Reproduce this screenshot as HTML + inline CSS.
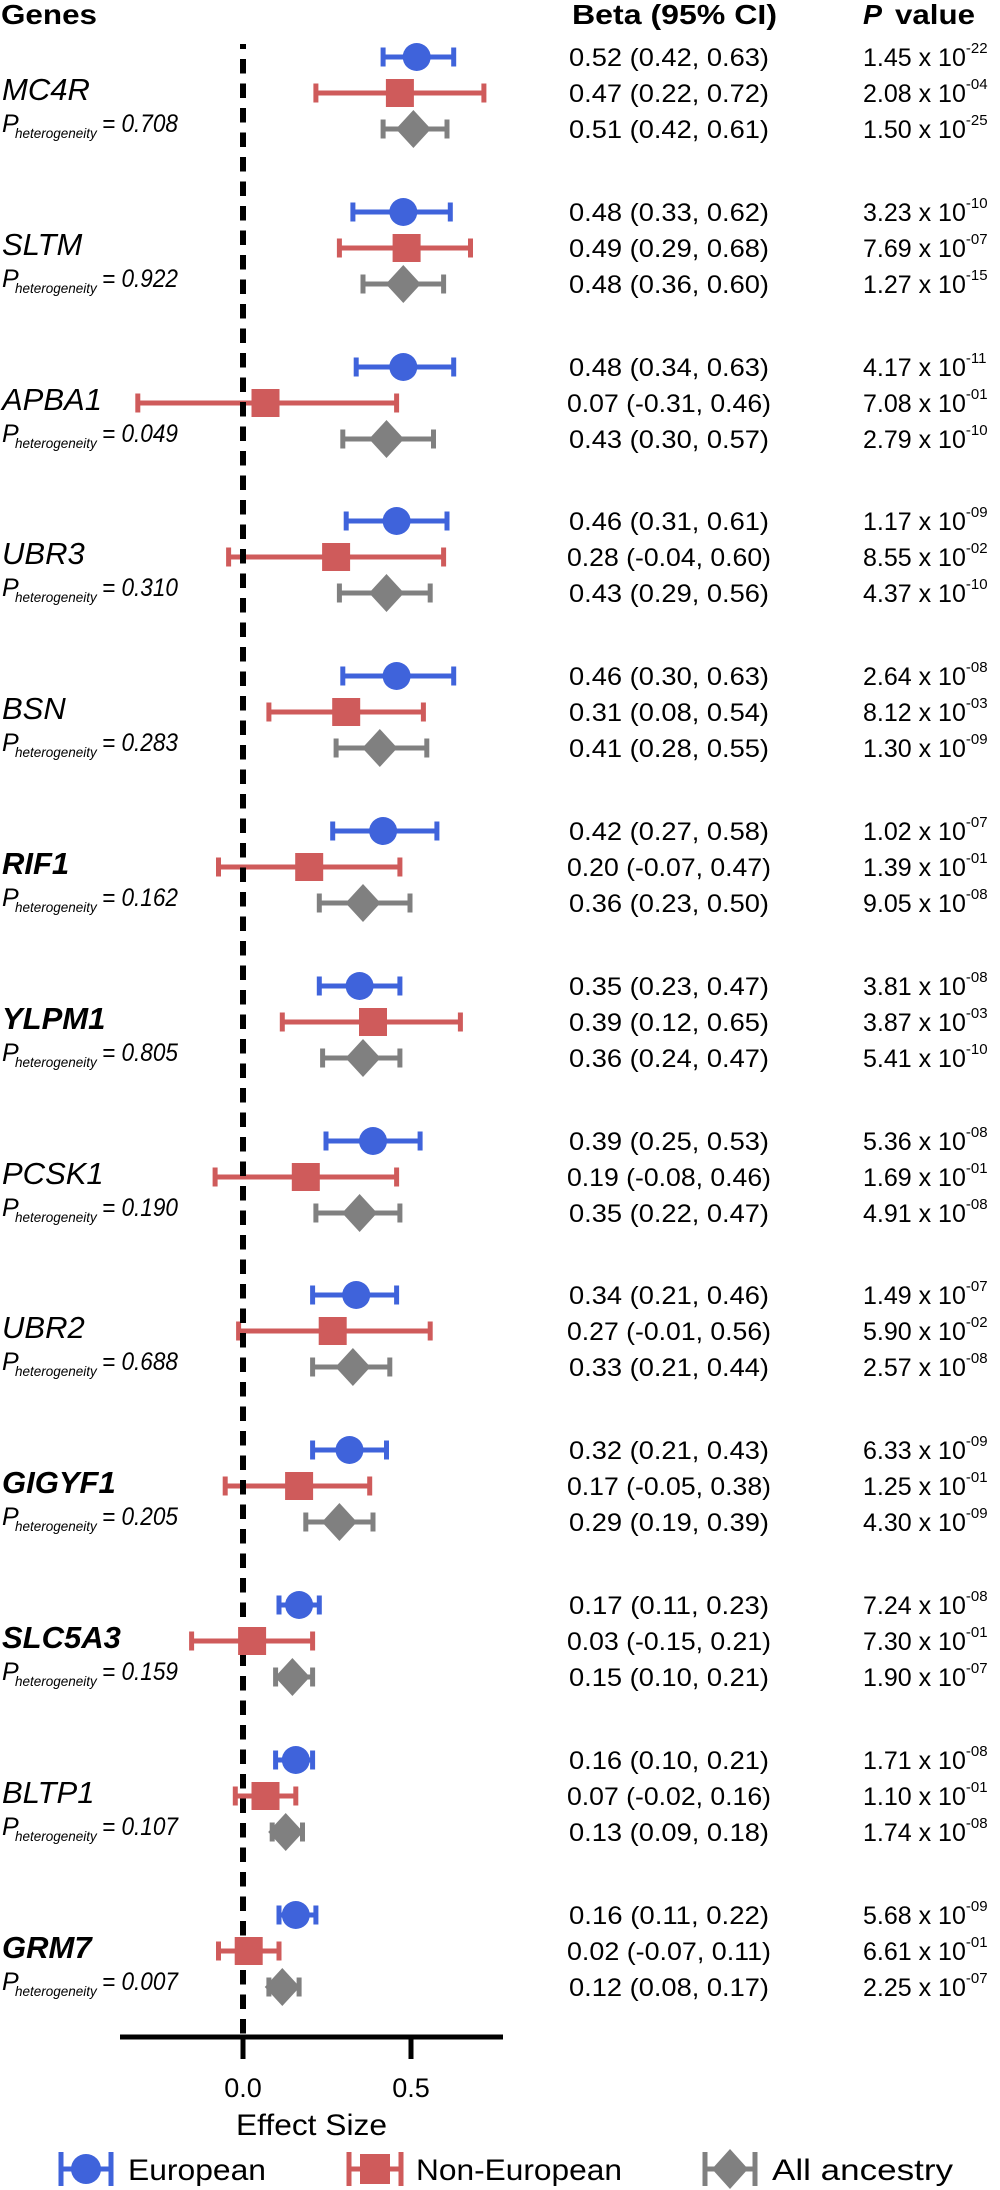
<!DOCTYPE html>
<html>
<head>
<meta charset="utf-8">
<style>
html,body{margin:0;padding:0;background:#fff;}
svg{display:block;}
text{font-family:"Liberation Sans",Arial,sans-serif;fill:#000;}
.h{font-weight:bold;font-size:28px;}
.g{font-style:italic;font-size:31px;}
.gb{font-style:italic;font-weight:bold;font-size:31px;}
.p{font-style:italic;font-size:25px;}
.s{font-style:italic;font-size:13.5px;}
.t{font-size:25px;}
.ax{font-size:27px;}
.lg{font-size:30px;}
.eb{fill:none;stroke-width:5;}
.B{stroke:#3f63db;} .Bf{fill:#3f63db;}
.R{stroke:#cf5b5b;} .Rf{fill:#cf5b5b;}
.G{stroke:#808080;} .Gf{fill:#808080;}
</style>
</head>
<body>
<svg width="1000" height="2190" viewBox="0 0 1000 2190" xmlns="http://www.w3.org/2000/svg">
<rect width="1000" height="2190" fill="#fff"/>

<!-- Headers -->
<text class="h" x="1" y="24" font-size="29" textLength="96" lengthAdjust="spacingAndGlyphs">Genes</text>
<text class="h" x="572" y="24" textLength="205" lengthAdjust="spacingAndGlyphs">Beta (95% CI)</text>
<text class="h" x="863" y="24" font-style="italic" textLength="19" lengthAdjust="spacingAndGlyphs">P</text>
<text class="h" x="895" y="24" textLength="80" lengthAdjust="spacingAndGlyphs">value</text>

<!-- Error bars -->
<g class="eb">
<!-- g0 -->
<path class="B" d="M383.1 57H453.7M383.1 47.5V66.5M453.7 47.5V66.5"/>
<path class="R" d="M315.9 93H483.9M315.9 83.5V102.5M483.9 83.5V102.5"/>
<path class="G" d="M383.1 129H447M383.1 119.5V138.5M447 119.5V138.5"/>
<!-- g1 -->
<path class="B" d="M352.9 212H450.3M352.9 202.5V221.5M450.3 202.5V221.5"/>
<path class="R" d="M339.4 248H470.5M339.4 238.5V257.5M470.5 238.5V257.5"/>
<path class="G" d="M363 284H443.6M363 274.5V293.5M443.6 274.5V293.5"/>
<!-- g2 -->
<path class="B" d="M356.2 367H453.7M356.2 357.5V376.5M453.7 357.5V376.5"/>
<path class="R" d="M137.8 403H396.6M137.8 393.5V412.5M396.6 393.5V412.5"/>
<path class="G" d="M342.8 439H433.5M342.8 429.5V448.5M433.5 429.5V448.5"/>
<!-- g3 -->
<path class="B" d="M346.2 521H447M346.2 511.5V530.5M447 511.5V530.5"/>
<path class="R" d="M228.6 557H443.6M228.6 547.5V566.5M443.6 547.5V566.5"/>
<path class="G" d="M339.4 593H430.2M339.4 583.5V602.5M430.2 583.5V602.5"/>
<!-- g4 -->
<path class="B" d="M342.8 676H453.7M342.8 666.5V685.5M453.7 666.5V685.5"/>
<path class="R" d="M268.9 712H423.4M268.9 702.5V721.5M423.4 702.5V721.5"/>
<path class="G" d="M336.1 748H426.8M336.1 738.5V757.5M426.8 738.5V757.5"/>
<!-- g5 -->
<path class="B" d="M332.7 831H436.9M332.7 821.5V840.5M436.9 821.5V840.5"/>
<path class="R" d="M218.5 867H399.9M218.5 857.5V876.5M399.9 857.5V876.5"/>
<path class="G" d="M319.3 903H410M319.3 893.5V912.5M410 893.5V912.5"/>
<!-- g6 -->
<path class="B" d="M319.3 986H399.9M319.3 976.5V995.5M399.9 976.5V995.5"/>
<path class="R" d="M282.3 1022H460.4M282.3 1012.5V1031.5M460.4 1012.5V1031.5"/>
<path class="G" d="M322.6 1058H399.9M322.6 1048.5V1067.5M399.9 1048.5V1067.5"/>
<!-- g7 -->
<path class="B" d="M326 1141H420.1M326 1131.5V1150.5M420.1 1131.5V1150.5"/>
<path class="R" d="M215.1 1177H396.6M215.1 1167.5V1186.5M396.6 1167.5V1186.5"/>
<path class="G" d="M315.9 1213H399.9M315.9 1203.5V1222.5M399.9 1203.5V1222.5"/>
<!-- g8 -->
<path class="B" d="M312.6 1295H396.6M312.6 1285.5V1304.5M396.6 1285.5V1304.5"/>
<path class="R" d="M238.6 1331H430.2M238.6 1321.5V1340.5M430.2 1321.5V1340.5"/>
<path class="G" d="M312.6 1367H389.8M312.6 1357.5V1376.5M389.8 1357.5V1376.5"/>
<!-- g9 -->
<path class="B" d="M312.6 1450H386.5M312.6 1440.5V1459.5M386.5 1440.5V1459.5"/>
<path class="R" d="M225.2 1486H369.7M225.2 1476.5V1495.5M369.7 1476.5V1495.5"/>
<path class="G" d="M305.8 1522H373M305.8 1512.5V1531.5M373 1512.5V1531.5"/>
<!-- g10 -->
<path class="B" d="M279 1605H319.3M279 1595.5V1614.5M319.3 1595.5V1614.5"/>
<path class="R" d="M191.6 1641H312.6M191.6 1631.5V1650.5M312.6 1631.5V1650.5"/>
<path class="G" d="M275.6 1677H312.6M275.6 1667.5V1686.5M312.6 1667.5V1686.5"/>
<!-- g11 -->
<path class="B" d="M275.6 1760H312.6M275.6 1750.5V1769.5M312.6 1750.5V1769.5"/>
<path class="R" d="M235.3 1796H295.8M235.3 1786.5V1805.5M295.8 1786.5V1805.5"/>
<path class="G" d="M272.2 1832H302.5M272.2 1822.5V1841.5M302.5 1822.5V1841.5"/>
<!-- g12 -->
<path class="B" d="M279 1915H315.9M279 1905.5V1924.5M315.9 1905.5V1924.5"/>
<path class="R" d="M218.5 1951H279M218.5 1941.5V1960.5M279 1941.5V1960.5"/>
<path class="G" d="M268.9 1987H299.1M268.9 1977.5V1996.5M299.1 1977.5V1996.5"/>
</g>

<!-- Dashed zero line -->
<line x1="243" y1="44" x2="243" y2="2037" stroke="#000" stroke-width="6" stroke-dasharray="14.5 10" stroke-dashoffset="9.5"/>

<!-- Markers -->
<g>
<circle class="Bf" cx="416.7" cy="57" r="14"/>
<rect class="Rf" x="385.9" y="79" width="28" height="28"/>
<polygon class="Gf" points="395.9,129 413.4,110 430.9,129 413.4,148"/>

<circle class="Bf" cx="403.3" cy="212" r="14"/>
<rect class="Rf" x="392.6" y="234" width="28" height="28"/>
<polygon class="Gf" points="385.8,284 403.3,265 420.8,284 403.3,303"/>

<circle class="Bf" cx="403.3" cy="367" r="14"/>
<rect class="Rf" x="251.5" y="389" width="28" height="28"/>
<polygon class="Gf" points="369,439 386.5,420 404,439 386.5,458"/>

<circle class="Bf" cx="396.6" cy="521" r="14"/>
<rect class="Rf" x="322.1" y="543" width="28" height="28"/>
<polygon class="Gf" points="369,593 386.5,574 404,593 386.5,612"/>

<circle class="Bf" cx="396.6" cy="676" r="14"/>
<rect class="Rf" x="332.2" y="698" width="28" height="28"/>
<polygon class="Gf" points="362.3,748 379.8,729 397.3,748 379.8,767"/>

<circle class="Bf" cx="383.1" cy="831" r="14"/>
<rect class="Rf" x="295.2" y="853" width="28" height="28"/>
<polygon class="Gf" points="345.5,903 363,884 380.5,903 363,922"/>

<circle class="Bf" cx="359.6" cy="986" r="14"/>
<rect class="Rf" x="359" y="1008" width="28" height="28"/>
<polygon class="Gf" points="345.5,1058 363,1039 380.5,1058 363,1077"/>

<circle class="Bf" cx="373" cy="1141" r="14"/>
<rect class="Rf" x="291.8" y="1163" width="28" height="28"/>
<polygon class="Gf" points="342.1,1213 359.6,1194 377.1,1213 359.6,1232"/>

<circle class="Bf" cx="356.2" cy="1295" r="14"/>
<rect class="Rf" x="318.7" y="1317" width="28" height="28"/>
<polygon class="Gf" points="335.4,1367 352.9,1348 370.4,1367 352.9,1386"/>

<circle class="Bf" cx="349.5" cy="1450" r="14"/>
<rect class="Rf" x="285.1" y="1472" width="28" height="28"/>
<polygon class="Gf" points="321.9,1522 339.4,1503 356.9,1522 339.4,1541"/>

<circle class="Bf" cx="299.1" cy="1605" r="14"/>
<rect class="Rf" x="238.1" y="1627" width="28" height="28"/>
<polygon class="Gf" points="274.9,1677 292.4,1658 309.9,1677 292.4,1696"/>

<circle class="Bf" cx="295.8" cy="1760" r="14"/>
<rect class="Rf" x="251.5" y="1782" width="28" height="28"/>
<polygon class="Gf" points="268.2,1832 285.7,1813 303.2,1832 285.7,1851"/>

<circle class="Bf" cx="295.8" cy="1915" r="14"/>
<rect class="Rf" x="234.7" y="1937" width="28" height="28"/>
<polygon class="Gf" points="264.8,1987 282.3,1968 299.8,1987 282.3,2006"/>
</g>

<!-- Gene labels -->
<g>
<text class="g" x="2" y="100">MC4R</text>
<text class="p" x="2" y="132">P</text><text class="s" x="15" y="138">heterogeneity</text><text class="p" x="102" y="132" textLength="76" lengthAdjust="spacingAndGlyphs">= 0.708</text>

<text class="g" x="2" y="255">SLTM</text>
<text class="p" x="2" y="287">P</text><text class="s" x="15" y="293">heterogeneity</text><text class="p" x="102" y="287" textLength="76" lengthAdjust="spacingAndGlyphs">= 0.922</text>

<text class="g" x="2" y="410">APBA1</text>
<text class="p" x="2" y="442">P</text><text class="s" x="15" y="448">heterogeneity</text><text class="p" x="102" y="442" textLength="76" lengthAdjust="spacingAndGlyphs">= 0.049</text>

<text class="g" x="2" y="564">UBR3</text>
<text class="p" x="2" y="596">P</text><text class="s" x="15" y="602">heterogeneity</text><text class="p" x="102" y="596" textLength="76" lengthAdjust="spacingAndGlyphs">= 0.310</text>

<text class="g" x="2" y="719">BSN</text>
<text class="p" x="2" y="751">P</text><text class="s" x="15" y="757">heterogeneity</text><text class="p" x="102" y="751" textLength="76" lengthAdjust="spacingAndGlyphs">= 0.283</text>

<text class="gb" x="2" y="874">RIF1</text>
<text class="p" x="2" y="906">P</text><text class="s" x="15" y="912">heterogeneity</text><text class="p" x="102" y="906" textLength="76" lengthAdjust="spacingAndGlyphs">= 0.162</text>

<text class="gb" x="2" y="1029">YLPM1</text>
<text class="p" x="2" y="1061">P</text><text class="s" x="15" y="1067">heterogeneity</text><text class="p" x="102" y="1061" textLength="76" lengthAdjust="spacingAndGlyphs">= 0.805</text>

<text class="g" x="2" y="1184">PCSK1</text>
<text class="p" x="2" y="1216">P</text><text class="s" x="15" y="1222">heterogeneity</text><text class="p" x="102" y="1216" textLength="76" lengthAdjust="spacingAndGlyphs">= 0.190</text>

<text class="g" x="2" y="1338">UBR2</text>
<text class="p" x="2" y="1370">P</text><text class="s" x="15" y="1376">heterogeneity</text><text class="p" x="102" y="1370" textLength="76" lengthAdjust="spacingAndGlyphs">= 0.688</text>

<text class="gb" x="2" y="1493">GIGYF1</text>
<text class="p" x="2" y="1525">P</text><text class="s" x="15" y="1531">heterogeneity</text><text class="p" x="102" y="1525" textLength="76" lengthAdjust="spacingAndGlyphs">= 0.205</text>

<text class="gb" x="2" y="1648">SLC5A3</text>
<text class="p" x="2" y="1680">P</text><text class="s" x="15" y="1686">heterogeneity</text><text class="p" x="102" y="1680" textLength="76" lengthAdjust="spacingAndGlyphs">= 0.159</text>

<text class="g" x="2" y="1803">BLTP1</text>
<text class="p" x="2" y="1835">P</text><text class="s" x="15" y="1841">heterogeneity</text><text class="p" x="102" y="1835" textLength="76" lengthAdjust="spacingAndGlyphs">= 0.107</text>

<text class="gb" x="2" y="1958">GRM7</text>
<text class="p" x="2" y="1990">P</text><text class="s" x="15" y="1996">heterogeneity</text><text class="p" x="102" y="1990" textLength="76" lengthAdjust="spacingAndGlyphs">= 0.007</text>
</g>

<!-- Beta column -->
<g class="t">
<text class="t" x="569" y="66" textLength="200" lengthAdjust="spacingAndGlyphs">0.52 (0.42, 0.63)</text>
<text class="t" x="569" y="102" textLength="200" lengthAdjust="spacingAndGlyphs">0.47 (0.22, 0.72)</text>
<text class="t" x="569" y="138" textLength="200" lengthAdjust="spacingAndGlyphs">0.51 (0.42, 0.61)</text>

<text class="t" x="569" y="221" textLength="200" lengthAdjust="spacingAndGlyphs">0.48 (0.33, 0.62)</text>
<text class="t" x="569" y="257" textLength="200" lengthAdjust="spacingAndGlyphs">0.49 (0.29, 0.68)</text>
<text class="t" x="569" y="293" textLength="200" lengthAdjust="spacingAndGlyphs">0.48 (0.36, 0.60)</text>

<text class="t" x="569" y="376" textLength="200" lengthAdjust="spacingAndGlyphs">0.48 (0.34, 0.63)</text>
<text class="t" x="567" y="412" textLength="204" lengthAdjust="spacingAndGlyphs">0.07 (-0.31, 0.46)</text>
<text class="t" x="569" y="448" textLength="200" lengthAdjust="spacingAndGlyphs">0.43 (0.30, 0.57)</text>

<text class="t" x="569" y="530" textLength="200" lengthAdjust="spacingAndGlyphs">0.46 (0.31, 0.61)</text>
<text class="t" x="567" y="566" textLength="204" lengthAdjust="spacingAndGlyphs">0.28 (-0.04, 0.60)</text>
<text class="t" x="569" y="602" textLength="200" lengthAdjust="spacingAndGlyphs">0.43 (0.29, 0.56)</text>

<text class="t" x="569" y="685" textLength="200" lengthAdjust="spacingAndGlyphs">0.46 (0.30, 0.63)</text>
<text class="t" x="569" y="721" textLength="200" lengthAdjust="spacingAndGlyphs">0.31 (0.08, 0.54)</text>
<text class="t" x="569" y="757" textLength="200" lengthAdjust="spacingAndGlyphs">0.41 (0.28, 0.55)</text>

<text class="t" x="569" y="840" textLength="200" lengthAdjust="spacingAndGlyphs">0.42 (0.27, 0.58)</text>
<text class="t" x="567" y="876" textLength="204" lengthAdjust="spacingAndGlyphs">0.20 (-0.07, 0.47)</text>
<text class="t" x="569" y="912" textLength="200" lengthAdjust="spacingAndGlyphs">0.36 (0.23, 0.50)</text>

<text class="t" x="569" y="995" textLength="200" lengthAdjust="spacingAndGlyphs">0.35 (0.23, 0.47)</text>
<text class="t" x="569" y="1031" textLength="200" lengthAdjust="spacingAndGlyphs">0.39 (0.12, 0.65)</text>
<text class="t" x="569" y="1067" textLength="200" lengthAdjust="spacingAndGlyphs">0.36 (0.24, 0.47)</text>

<text class="t" x="569" y="1150" textLength="200" lengthAdjust="spacingAndGlyphs">0.39 (0.25, 0.53)</text>
<text class="t" x="567" y="1186" textLength="204" lengthAdjust="spacingAndGlyphs">0.19 (-0.08, 0.46)</text>
<text class="t" x="569" y="1222" textLength="200" lengthAdjust="spacingAndGlyphs">0.35 (0.22, 0.47)</text>

<text class="t" x="569" y="1304" textLength="200" lengthAdjust="spacingAndGlyphs">0.34 (0.21, 0.46)</text>
<text class="t" x="567" y="1340" textLength="204" lengthAdjust="spacingAndGlyphs">0.27 (-0.01, 0.56)</text>
<text class="t" x="569" y="1376" textLength="200" lengthAdjust="spacingAndGlyphs">0.33 (0.21, 0.44)</text>

<text class="t" x="569" y="1459" textLength="200" lengthAdjust="spacingAndGlyphs">0.32 (0.21, 0.43)</text>
<text class="t" x="567" y="1495" textLength="204" lengthAdjust="spacingAndGlyphs">0.17 (-0.05, 0.38)</text>
<text class="t" x="569" y="1531" textLength="200" lengthAdjust="spacingAndGlyphs">0.29 (0.19, 0.39)</text>

<text class="t" x="569" y="1614" textLength="200" lengthAdjust="spacingAndGlyphs">0.17 (0.11, 0.23)</text>
<text class="t" x="567" y="1650" textLength="204" lengthAdjust="spacingAndGlyphs">0.03 (-0.15, 0.21)</text>
<text class="t" x="569" y="1686" textLength="200" lengthAdjust="spacingAndGlyphs">0.15 (0.10, 0.21)</text>

<text class="t" x="569" y="1769" textLength="200" lengthAdjust="spacingAndGlyphs">0.16 (0.10, 0.21)</text>
<text class="t" x="567" y="1805" textLength="204" lengthAdjust="spacingAndGlyphs">0.07 (-0.02, 0.16)</text>
<text class="t" x="569" y="1841" textLength="200" lengthAdjust="spacingAndGlyphs">0.13 (0.09, 0.18)</text>

<text class="t" x="569" y="1924" textLength="200" lengthAdjust="spacingAndGlyphs">0.16 (0.11, 0.22)</text>
<text class="t" x="567" y="1960" textLength="204" lengthAdjust="spacingAndGlyphs">0.02 (-0.07, 0.11)</text>
<text class="t" x="569" y="1996" textLength="200" lengthAdjust="spacingAndGlyphs">0.12 (0.08, 0.17)</text>
</g>

<!-- P value column -->
<g>
<text class="t" x="863" y="66">1.45 x 10<tspan dy="-13" font-size="15">-22</tspan></text>
<text class="t" x="863" y="102">2.08 x 10<tspan dy="-13" font-size="15">-04</tspan></text>
<text class="t" x="863" y="138">1.50 x 10<tspan dy="-13" font-size="15">-25</tspan></text>

<text class="t" x="863" y="221">3.23 x 10<tspan dy="-13" font-size="15">-10</tspan></text>
<text class="t" x="863" y="257">7.69 x 10<tspan dy="-13" font-size="15">-07</tspan></text>
<text class="t" x="863" y="293">1.27 x 10<tspan dy="-13" font-size="15">-15</tspan></text>

<text class="t" x="863" y="376">4.17 x 10<tspan dy="-13" font-size="15">-11</tspan></text>
<text class="t" x="863" y="412">7.08 x 10<tspan dy="-13" font-size="15">-01</tspan></text>
<text class="t" x="863" y="448">2.79 x 10<tspan dy="-13" font-size="15">-10</tspan></text>

<text class="t" x="863" y="530">1.17 x 10<tspan dy="-13" font-size="15">-09</tspan></text>
<text class="t" x="863" y="566">8.55 x 10<tspan dy="-13" font-size="15">-02</tspan></text>
<text class="t" x="863" y="602">4.37 x 10<tspan dy="-13" font-size="15">-10</tspan></text>

<text class="t" x="863" y="685">2.64 x 10<tspan dy="-13" font-size="15">-08</tspan></text>
<text class="t" x="863" y="721">8.12 x 10<tspan dy="-13" font-size="15">-03</tspan></text>
<text class="t" x="863" y="757">1.30 x 10<tspan dy="-13" font-size="15">-09</tspan></text>

<text class="t" x="863" y="840">1.02 x 10<tspan dy="-13" font-size="15">-07</tspan></text>
<text class="t" x="863" y="876">1.39 x 10<tspan dy="-13" font-size="15">-01</tspan></text>
<text class="t" x="863" y="912">9.05 x 10<tspan dy="-13" font-size="15">-08</tspan></text>

<text class="t" x="863" y="995">3.81 x 10<tspan dy="-13" font-size="15">-08</tspan></text>
<text class="t" x="863" y="1031">3.87 x 10<tspan dy="-13" font-size="15">-03</tspan></text>
<text class="t" x="863" y="1067">5.41 x 10<tspan dy="-13" font-size="15">-10</tspan></text>

<text class="t" x="863" y="1150">5.36 x 10<tspan dy="-13" font-size="15">-08</tspan></text>
<text class="t" x="863" y="1186">1.69 x 10<tspan dy="-13" font-size="15">-01</tspan></text>
<text class="t" x="863" y="1222">4.91 x 10<tspan dy="-13" font-size="15">-08</tspan></text>

<text class="t" x="863" y="1304">1.49 x 10<tspan dy="-13" font-size="15">-07</tspan></text>
<text class="t" x="863" y="1340">5.90 x 10<tspan dy="-13" font-size="15">-02</tspan></text>
<text class="t" x="863" y="1376">2.57 x 10<tspan dy="-13" font-size="15">-08</tspan></text>

<text class="t" x="863" y="1459">6.33 x 10<tspan dy="-13" font-size="15">-09</tspan></text>
<text class="t" x="863" y="1495">1.25 x 10<tspan dy="-13" font-size="15">-01</tspan></text>
<text class="t" x="863" y="1531">4.30 x 10<tspan dy="-13" font-size="15">-09</tspan></text>

<text class="t" x="863" y="1614">7.24 x 10<tspan dy="-13" font-size="15">-08</tspan></text>
<text class="t" x="863" y="1650">7.30 x 10<tspan dy="-13" font-size="15">-01</tspan></text>
<text class="t" x="863" y="1686">1.90 x 10<tspan dy="-13" font-size="15">-07</tspan></text>

<text class="t" x="863" y="1769">1.71 x 10<tspan dy="-13" font-size="15">-08</tspan></text>
<text class="t" x="863" y="1805">1.10 x 10<tspan dy="-13" font-size="15">-01</tspan></text>
<text class="t" x="863" y="1841">1.74 x 10<tspan dy="-13" font-size="15">-08</tspan></text>

<text class="t" x="863" y="1924">5.68 x 10<tspan dy="-13" font-size="15">-09</tspan></text>
<text class="t" x="863" y="1960">6.61 x 10<tspan dy="-13" font-size="15">-01</tspan></text>
<text class="t" x="863" y="1996">2.25 x 10<tspan dy="-13" font-size="15">-07</tspan></text>
</g>

<!-- X axis -->
<line x1="120" y1="2037" x2="503" y2="2037" stroke="#000" stroke-width="5"/>
<line x1="243" y1="2035" x2="243" y2="2059" stroke="#000" stroke-width="5"/>
<line x1="411" y1="2035" x2="411" y2="2059" stroke="#000" stroke-width="5"/>
<text class="ax" x="243" y="2097" text-anchor="middle">0.0</text>
<text class="ax" x="411" y="2097" text-anchor="middle">0.5</text>
<text class="lg" x="236" y="2135" textLength="151" lengthAdjust="spacingAndGlyphs">Effect Size</text>

<!-- Legend -->
<g class="eb">
<path class="B" d="M61 2169H111M61 2152V2186M111 2152V2186"/>
<path class="R" d="M349 2169H401M349 2152V2186M401 2152V2186"/>
<path class="G" d="M705 2169H755M705 2152V2186M755 2152V2186"/>
</g>
<circle class="Bf" cx="86" cy="2169" r="15"/>
<rect class="Rf" x="360" y="2154" width="30" height="30"/>
<polygon class="Gf" points="712,2169 730,2149 748,2169 730,2189"/>
<text class="lg" x="128" y="2180" textLength="138" lengthAdjust="spacingAndGlyphs">European</text>
<text class="lg" x="416" y="2180" textLength="206" lengthAdjust="spacingAndGlyphs">Non-European</text>
<text class="lg" x="772" y="2180" textLength="181" lengthAdjust="spacingAndGlyphs">All ancestry</text>
</svg>
</body>
</html>
